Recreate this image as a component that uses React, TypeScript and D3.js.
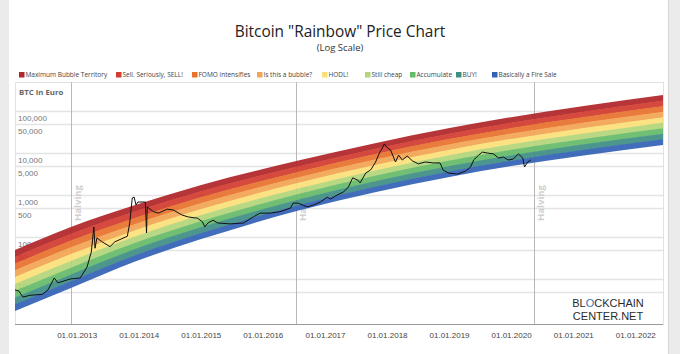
import React from "react";
import * as d3 from "d3";

// BTC price in EUR
const priceDates = [
  "2012-01-01", "2012-01-23", "2012-02-17", "2012-03-29", "2012-06-10", "2012-07-13", "2012-08-19",
  "2012-09-09", "2012-10-16", "2012-11-21", "2013-01-19", "2013-02-28", "2013-03-25", "2013-04-09",
  "2013-04-16", "2013-04-27", "2013-05-27", "2013-07-13", "2013-08-11", "2013-10-23", "2013-11-06",
  "2013-11-21", "2013-12-02", "2013-12-13", "2013-12-24", "2014-02-06", "2014-02-13", "2014-02-17",
  "2014-03-26", "2014-04-24", "2014-06-14", "2014-07-20", "2014-09-09", "2014-10-16", "2014-12-10",
  "2015-01-08", "2015-01-22", "2015-02-09", "2015-03-11", "2015-04-09", "2015-06-21", "2015-09-06",
  "2015-11-03", "2015-12-13", "2016-02-10", "2016-04-08", "2016-06-10", "2016-06-24", "2016-07-24",
  "2016-08-26", "2016-09-17", "2016-10-23", "2016-12-02", "2017-01-11", "2017-01-30", "2017-03-11",
  "2017-04-16", "2017-05-16", "2017-06-10", "2017-07-09", "2017-07-24", "2017-08-26", "2017-09-24",
  "2017-10-23", "2017-11-14", "2017-12-02", "2017-12-13", "2018-01-01", "2018-01-19", "2018-02-17",
  "2018-03-07", "2018-03-29", "2018-04-27", "2018-05-27", "2018-07-02", "2018-08-11", "2018-09-27",
  "2018-11-06", "2018-11-24", "2018-12-24", "2019-02-17", "2019-04-06", "2019-05-05", "2019-05-23",
  "2019-06-21", "2019-07-13", "2019-08-11", "2019-09-17", "2019-10-16", "2019-11-14", "2019-12-13",
  "2020-01-11", "2020-02-10", "2020-03-07", "2020-03-17", "2020-04-05", "2020-04-23",
];
const priceValues = [
  5.5, 5.2, 3.7, 4.1, 4.3, 5.5, 10.6,
  8.1, 9.0, 10, 10.6, 19.3, 44, 173,
  54, 95, 77, 59, 77, 104, 216,
  850, 890, 580, 680, 680, 125, 520,
  400, 370, 460, 440, 335, 300, 280,
  230, 175, 215, 250, 215, 205, 215,
  300, 370, 370, 400, 490, 640, 640,
  560, 520, 580, 680, 890, 800, 1000,
  1170, 1550, 2560, 2270, 1940, 3340, 3950,
  6100, 10000, 13200, 16400, 13200, 11800, 6100,
  8900, 6800, 8500, 6500, 5500, 6100, 5800,
  5800, 3950, 3340, 3150, 3720, 4640, 6800,
  8900, 10500, 10000, 9500, 7600, 8000, 6800,
  7200, 9500, 7600, 4640, 6100, 6800,
];

// rainbow envelope (top of red band, bottom of blue band)
const rainbowDates = ["2012-01-01", "2012-11-25", "2013-12-08", "2015-01-01", "2016-08-07", "2019-01-01", "2022-06-10"];
const rainbowTop = [49, 173, 575, 1730, 6770, 39400, 240000];
const rainbowBottom = [1.73, 6.1, 26, 89, 437, 2690, 15600];

const bandNames = [
  "Maximum Bubble Territory", "Sell. Seriously, SELL!", "FOMO intensifies", "Is this a bubble?",
  "HODL!", "Still cheap", "Accumulate", "BUY!", "Basically a Fire Sale",
];
const bandColors = ["#b1262a", "#d23c30", "#e8732f", "#f3a553", "#fbe07a", "#b3d67a", "#66bb6a", "#3f8f86", "#3462b5"];

const yTicks = [100000, 50000, 10000, 5000, 1000, 500, 100, 50, 10, 5];
const yLabelled = [100000, 50000, 10000, 5000, 1000, 500, 100, 50, 10];
const xTickYears = [2013, 2014, 2015, 2016, 2017, 2018, 2019, 2020, 2021, 2022];
const halvingDates = ["2012-11-28", "2016-07-09", "2020-05-11"];

const W = 680;
const H = 354;
const plot = { left: 15, right: 663, top: 82, bottom: 324 };
const legendX = [19, 116, 192, 257, 322, 365, 410, 456, 492];

const parse = d3.timeParse("%Y-%m-%d");

export default function App() {
  const x = d3.scaleTime()
    .domain([parse("2012-01-01")!, parse("2022-06-10")!])
    .range([plot.left, plot.right]);
  const y = d3.scaleLog()
    .domain([0.848, 490000])
    .range([plot.bottom, plot.top]);

  const price = priceDates.map((d, i) => ({ date: parse(d)!, v: priceValues[i] }));
  const env = rainbowDates.map((d, i) => ({ date: parse(d)!, top: rainbowTop[i], bottom: rainbowBottom[i] }));

  // split the envelope into 9 equal bands in log space
  const level = (e: { top: number; bottom: number }, k: number) =>
    Math.pow(10, Math.log10(e.top) - (k / 9) * (Math.log10(e.top) - Math.log10(e.bottom)));

  const bands = bandColors.map((c, i) => {
    const area = d3.area<{ date: Date; top: number; bottom: number }>()
      .x(d => x(d.date))
      .y0(d => y(level(d, i + 1)) + (i < 8 ? 0.5 : 0))
      .y1(d => y(level(d, i)))
      .curve(d3.curveMonotoneX);
    return <path key={i} d={area(env) || ""} fill={c} />;
  });

  const line = d3.line<{ date: Date; v: number }>()
    .x(d => x(d.date))
    .y(d => y(d.v));

  const fmt = d3.format(",");

  return (
    <svg width={W} height={H} style={{ position: "absolute", left: 0, top: 0 }}>
      <rect x={0} y={0} width={W} height={H} fill="#ebebeb" />
      <rect x={9} y={0} width={659} height={H} fill="#fff" />
      <line x1={668.5} x2={668.5} y1={0} y2={H} stroke="#d6d6d6" />

      <text x={340} y={37} textAnchor="middle" fontFamily="Open Sans" fontSize={15.4} fill="#222">
        Bitcoin "Rainbow" Price Chart
      </text>
      <text x={340} y={51} textAnchor="middle" fontFamily="Open Sans" fontSize={9.5} fill="#333">
        (Log Scale)
      </text>

      <g fontFamily="Open Sans" fontSize={6.5} fill="#444">
        {bandNames.map((n, i) => (
          <g key={n} transform={`translate(${legendX[i]},72)`}>
            <rect x={0} y={0} width={5.5} height={5.5} fill={bandColors[i]} />
            <text x={6.5} y={5.3}>{n}</text>
          </g>
        ))}
      </g>

      {/* frame */}
      <rect x={plot.left + 0.5} y={plot.top + 0.5} width={plot.right - plot.left} height={plot.bottom - plot.top}
        fill="none" stroke="#e2e2e2" />

      {yTicks.map(t => (
        <line key={t} x1={plot.left} x2={plot.right} y1={Math.round(y(t)) + 0.5} y2={Math.round(y(t)) + 0.5}
          stroke="#e4e4e4" strokeWidth={1.5} />
      ))}
      <g fontFamily="Liberation Sans, Arial" fontSize={8} fill="#777">
        {yLabelled.map(t => (
          <text key={t} x={18} y={y(t) + 10}>{fmt(t)}</text>
        ))}
      </g>
      <text x={19} y={95} fontFamily="Open Sans" fontWeight="bold" fontSize={7.8} fill="#666">BTC In Euro</text>

      {halvingDates.map(d => {
        const hx = Math.round(x(parse(d)!)) + 0.5;
        return (
          <g key={d}>
            <line x1={hx} x2={hx} y1={plot.top} y2={plot.bottom} stroke="#b8b8b8" />
            <text transform={`translate(${hx + 9.5},203) rotate(-90)`} textAnchor="middle"
              fontFamily="Open Sans" fontWeight="bold" fontSize={9.5} fill="#cfcfcf">Halving</text>
          </g>
        );
      })}

      <g opacity={0.93}>{bands}</g>

      <path d={line(price) || ""} fill="none" stroke="#111" strokeWidth={1} strokeLinejoin="round" />

      <line x1={plot.left} x2={plot.right} y1={plot.bottom + 0.5} y2={plot.bottom + 0.5} stroke="#9a9a9a" />
      <g fontFamily="Liberation Sans, Arial" fontSize={8} fill="#444" textAnchor="middle">
        {xTickYears.map(yr => (
          <text key={yr} x={x(new Date(yr, 0, 1))} y={338}>{`01.01.${yr}`}</text>
        ))}
      </g>

      <g fontFamily="Liberation Sans, Arial" fontSize={11} fill="#2b2b2b" textAnchor="middle">
        <text x={608} y={307}>BL<tspan fill="#3d6fb6">O</tspan>CKCHAIN</text>
        <text x={608} y={319.5}>CENTER.NET</text>
      </g>
    </svg>
  );
}
